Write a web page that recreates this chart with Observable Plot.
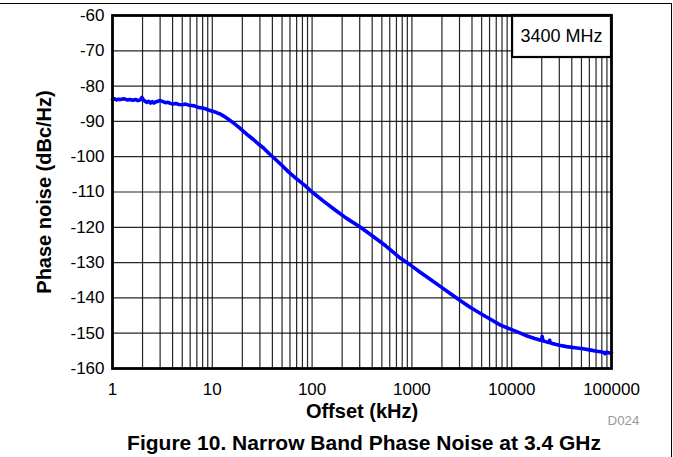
<!DOCTYPE html>
<html>
<head>
<meta charset="utf-8">
<script src="https://cdn.jsdelivr.net/npm/d3@7"></script>
<script src="https://cdn.jsdelivr.net/npm/@observablehq/plot@0.6"></script>
<style>
  html, body { margin: 0; padding: 0; background: #fff; }
  #wrap { position: relative; width: 673px; height: 457px; overflow: hidden; }
  #pageframe { position: absolute; left: 0; top: 3px; width: 672px; height: 460px;
    border-top: 1.5px solid #000; border-right: 1.5px solid #000; box-sizing: border-box; pointer-events: none; }
</style>
</head>
<body>
<div id="wrap"><div id="pageframe"></div></div>
<script>
// Offset frequency (kHz) and phase noise (dBc/Hz)
const freqs = [
  1, 1.05, 1.1, 1.15, 1.2, 1.3, 1.4, 1.5, 1.6, 1.7, 1.8, 1.9, 1.97, 2.03, 2.1, 2.2, 2.3, 2.4, 2.5, 2.6,
  2.7, 2.85, 3.0, 3.2, 3.4, 3.6, 3.8, 4.0, 4.3, 4.6, 5.0, 5.4, 5.8, 6.2, 6.6, 7.0, 7.5, 8.0, 8.5, 9.0,
  10, 11, 12, 13, 14.5, 16.4, 18.5, 20.7, 23, 26, 29, 32.8, 37, 41.3, 50, 58, 70, 85, 100, 130,
  170, 220, 305, 400, 550, 769, 890, 1000, 1219, 1500, 1936, 2400, 3068, 3900, 4864, 6000, 7727, 10000, 12200, 14300,
  17000, 19500, 19900, 20200, 20600, 21500, 23000, 23600, 24000, 24400, 25500, 30000, 35500, 43000, 52000, 62000, 71500, 80000, 84000, 86000,
  88000, 92000, 96000, 100000
];
const phaseNoise = [
  -83.8, -83.6, -83.9, -83.7, -83.8, -83.6, -83.9, -83.8, -84.0, -83.8, -84.1, -83.9, -83.2, -83.8, -84.2, -84.6, -84.3, -84.8, -84.4, -84.8,
  -84.5, -84.3, -84.1, -84.4, -84.7, -84.6, -84.9, -85.1, -84.9, -85.2, -85.3, -85.1, -85.4, -85.5, -85.6, -85.9, -86.1, -86.2, -86.4, -86.7,
  -87.1, -87.5, -87.9, -88.5, -89.4, -90.5, -91.7, -92.9, -94.0, -95.2, -96.4, -97.6, -99.1, -100.3, -102.5, -104.3, -106.3, -108.2, -110.0, -112.6,
  -115.1, -117.4, -120.0, -122.4, -125.3, -128.8, -130.0, -131.0, -132.8, -134.6, -136.8, -138.7, -140.8, -142.8, -144.4, -145.9, -147.7, -149.0, -150.0, -150.8,
  -151.5, -152.0, -151.6, -150.9, -152.2, -152.3, -152.6, -152.6, -152.0, -152.7, -152.9, -153.4, -153.8, -154.1, -154.4, -154.8, -155.1, -155.3, -155.5, -155.8,
  -155.4, -155.5, -155.6, -155.5
];
const xTicks = [1, 10, 100, 1000, 10000, 100000];
const xTickLabels = ["1", "10", "100", "1000", "10000", "100000"];
const yTicks = [-160, -150, -140, -130, -120, -110, -100, -90, -80, -70, -60];
const legendLabel = ["3400 MHz"];
const legendBox = [{x1: 10200, x2: 100000, y1: -71.9, y2: -60}];

const data = freqs.map((f, i) => ({f, pn: phaseNoise[i]}));
const xGrid = d3.range(0, 5).flatMap(e => d3.range(1, 10).map(m => m * 10 ** e)).concat([1e5]);
const font = "'Liberation Sans', Arial, Helvetica, sans-serif";

const chart = Plot.plot({
  width: 673,
  height: 457,
  marginLeft: 112,
  marginRight: 62,
  marginTop: 15,
  marginBottom: 89,
  style: {fontFamily: font, fontSize: "17px", color: "#000", background: "transparent", overflow: "visible"},
  x: {type: "log", domain: [1, 1e5]},
  y: {domain: [-160, -60]},
  marks: [
    Plot.ruleX(xGrid, {stroke: "#000", strokeWidth: 1.2, strokeOpacity: 0.85}),
    Plot.ruleY(yTicks, {stroke: "#000", strokeWidth: 1.2, strokeOpacity: 0.85}),
    Plot.axisX({ticks: xTicks, tickFormat: d => xTickLabels[xTicks.indexOf(d)], tickSize: 0, tickPadding: 14, label: null, fontSize: 17}),
    Plot.axisY({ticks: yTicks, tickFormat: d => String(d), tickSize: 0, tickPadding: 8, label: null, fontSize: 17}),
    Plot.line(data, {x: "f", y: "pn", stroke: "#0000ff", strokeWidth: 3.6, curve: "linear"}),
    Plot.rect(legendBox, {x1: "x1", x2: "x2", y1: "y1", y2: "y2", fill: "#fff", stroke: "#000", strokeWidth: 2.2}),
    Plot.text(legendLabel, {x: 31600, y: -65.95, text: d => d, fontSize: 18, fill: "#000"}),
    Plot.frame({stroke: "#000", strokeWidth: 2.8}),
    Plot.text(["Phase noise (dBc/Hz)"], {frameAnchor: "left", dx: -68, rotate: -90, textAnchor: "middle", lineAnchor: "middle", text: d => d, fontSize: 20, fontWeight: "bold", fill: "#000"}),
    Plot.text(["Offset (kHz)"], {frameAnchor: "bottom", dy: 43, textAnchor: "middle", lineAnchor: "middle", text: d => d, fontSize: 20, fontWeight: "bold", fill: "#000"}),
    Plot.text(["D024"], {frameAnchor: "bottom-right", dx: 12, dy: 52, textAnchor: "middle", lineAnchor: "middle", text: d => d, fontSize: 13.3, fill: "#999"}),
    Plot.text(["Figure 10. Narrow Band Phase Noise at 3.4 GHz"], {frameAnchor: "bottom", dy: 75, dx: 2, textAnchor: "middle", lineAnchor: "middle", text: d => d, fontSize: 21, fontWeight: "bold", fill: "#000"})
  ]
});
chart.style.position = "absolute";
chart.style.left = "0";
chart.style.top = "0";
document.getElementById("wrap").prepend(chart);
</script>
</body>
</html>
